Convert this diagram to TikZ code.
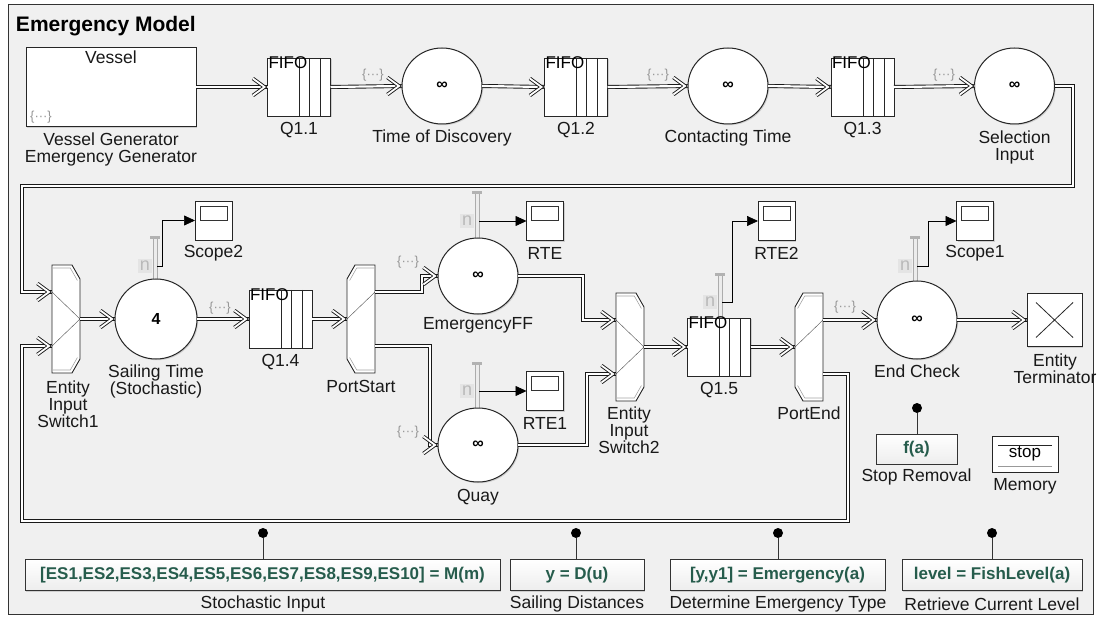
\documentclass[tikz,border=0pt]{standalone}
\usepackage{fontspec}
\setmainfont{Liberation Sans}
\usetikzlibrary{shapes.geometric,arrows.meta,calc,shadows}
\definecolor{bgc}{RGB}{240,240,240}
\definecolor{fgreen}{RGB}{38,92,76}
\definecolor{dotsgray}{RGB}{150,150,150}
\definecolor{nbg}{RGB}{228,228,228}

\tikzset{
  every node/.style={inner sep=0pt, outer sep=0pt},
  lbl/.style={font=\fontsize{17.5}{17}\selectfont, align=center, text=black!90},
  blk/.style={draw=black!85, line width=0.9pt, fill=white,
    drop shadow={shadow xshift=1.2pt, shadow yshift=-1.2pt, opacity=0.3}},
  server/.style={blk, ellipse, line width=1pt, minimum width=80pt, minimum height=76pt,
    font=\bfseries\fontsize{16}{16}\selectfont},
  fifobox/.style={blk, rectangle, minimum width=63pt, minimum height=58pt},
  scopebox/.style={blk, rectangle, minimum width=37pt, minimum height=39pt},
  swbox/.style={rectangle, minimum width=28pt, minimum height=108pt, draw=none},
  swshape/.style={draw=black!85, line width=0.9pt, fill=white, line join=miter},
  swbevel/.style={draw=gray!70, line width=0.6pt},
  swwire/.style={draw=black!70, line width=0.4pt},
  ent/.style={draw=black!90, line width=0.9pt, double=white, double distance=2.2pt,
    line join=miter},
  chev/.pic={\draw[draw=black!90, line width=0.9pt, double=white, double distance=1.8pt,
        line join=miter] (-14.6pt,8.5pt) -- (-3pt,0pt) -- (-14.6pt,-8.5pt);},
  sig/.style={draw=black, line width=0.7pt, -{Triangle[length=11pt,width=10pt]}},
  attr/.style={font=\fontsize{13}{13}\selectfont, text=dotsgray},
  nlbl/.style={font=\fontsize{18}{18}\selectfont, text=gray!55, fill=nbg, inner sep=2pt},
  fnbox/.style={draw=black!80, line width=0.9pt, top color=white, bottom color=gray!14,
    minimum height=31pt, inner xsep=4pt, font=\bfseries\fontsize{17}{17}\selectfont,
    text=fgreen, drop shadow={shadow xshift=1.2pt, shadow yshift=-1.2pt, opacity=0.3}},
  dotn/.style={circle, fill=black, minimum size=10pt},
  wire/.style={draw=black!80, line width=0.8pt},
}

\newcommand\nport[5]{%
  \draw[draw=gray!65, fill=gray!15, line width=0.5pt] (#2-2,#3) rectangle (#2+2,#4);
  \fill[gray!60] (#2-5,#3-1.5) rectangle (#2+5,#3+1.5);
  \node[nlbl] (#1) at (#2-10,#5) {n};
  \coordinate (#1-s) at (#2+2,#5);
}
\newcommand\fifo[4]{%
  \node[fifobox] (#1) at (#2,#3) {};
  \foreach \d in {31,21,10}{\draw[black!85, line width=0.7pt] ($(#1.north east)+(-\d,0)$) -- ($(#1.south east)+(-\d,0)$);}
  \node[font=\fontsize{17}{17}\selectfont, anchor=north west] (#1-t) at ($(#1.north west)+(1,-1)$) {FIFO};
  \node[lbl] (#1-l) at ($(#1.south)+(0,14)$) {#4};
}
\newcommand\scopeblk[4]{%
  \node[scopebox] (#1) at (#2,#3) {};
  \draw[black!80, line width=0.7pt, fill=white] ($(#1.north west)+(5,5)$) rectangle ($(#1.north east)+(-5,19)$);
  \node[lbl] (#1-l) at ($(#1.south)+(0,13)$) {#4};
}
\newcommand\inSw[3]{%
  \node[swbox] (#1) at (#2+14,#3+54) {};
  \draw[swshape] (#2,#3) -- (#2+20,#3) -- (#2+28,#3+14) -- (#2+28,#3+94) -- (#2+20,#3+108) -- (#2,#3+108) -- cycle;
  \draw[swbevel] (#2+1,#3+3) -- (#2+18.3,#3+3) -- (#2+25.4,#3+15.5);
  \draw[swbevel] (#2+1,#3+105) -- (#2+18.3,#3+105) -- (#2+25.4,#3+92.5);
  \coordinate (#1-in1) at (#2,#3+27);
  \coordinate (#1-in2) at (#2,#3+81);
  \coordinate (#1-out) at (#2+28,#3+54);
  \draw[swwire] (#1-in1) -- (#1-out) -- (#1-in2);
}
\newcommand\outSw[3]{%
  \node[swbox] (#1) at (#2+14,#3+54) {};
  \draw[swshape] (#2+28,#3) -- (#2+8,#3) -- (#2,#3+14) -- (#2,#3+94) -- (#2+8,#3+108) -- (#2+28,#3+108) -- cycle;
  \draw[swbevel] (#2+27,#3+3) -- (#2+9.7,#3+3) -- (#2+2.6,#3+15.5);
  \draw[swbevel] (#2+27,#3+105) -- (#2+9.7,#3+105) -- (#2+2.6,#3+92.5);
  \coordinate (#1-in) at (#2,#3+54);
  \coordinate (#1-out1) at (#2+28,#3+27);
  \coordinate (#1-out2) at (#2+28,#3+81);
  \draw[swwire] (#1-in) -- (#1-out1);
}

\begin{document}
\begin{tikzpicture}[x=1pt,y=-1pt]
\useasboundingbox (0,0) rectangle (1099,617);
\draw[black!80, line width=0.8pt, fill=bgc] (8,4) rectangle (1093,614);
\node[font=\bfseries\fontsize{21}{21}\selectfont, anchor=base west] (title) at (16,32) {Emergency Model};

% n ports
\nport{sailn}{155}{238}{282}{266}
\nport{effn}{477}{193}{240}{221}
\nport{quayn}{477}{363}{410}{391}
\nport{q15n}{720}{275}{320}{302}
\nport{ecn}{915}{238}{282}{266}

% top row
\node[blk, rectangle, minimum width=170pt, minimum height=79pt] (vessel) at (111,87) {};
\node[lbl] (vesselT) at ($(vessel.north)+(0,10)$) {Vessel};
\node[attr] (vesselA) at (41,117) {\{···\}};
\node[lbl] (vesselL) at (111,149) {Vessel Generator\\Emergency Generator};

\fifo{q11}{299}{87}{Q1.1}
\node[server] (tod) at (442,86) {∞};
\node[lbl] (todL) at (442,138) {Time of Discovery};
\fifo{q12}{576}{87}{Q1.2}
\node[server] (ct) at (728,86) {∞};
\node[lbl] (ctL) at (728,138) {Contacting Time};
\fifo{q13}{862.5}{87}{Q1.3}
\node[server] (sel) at (1014.5,86) {∞};
\node[lbl] (selL) at (1014.5,147) {Selection\\Input};

\node[attr] (a1) at (373,75) {\{···\}};
\node[attr] (a2) at (658,75) {\{···\}};
\node[attr] (a3) at (944,75) {\{···\}};

% middle row
\inSw{sw1}{52}{265}
\node[lbl] (sw1L) at (68,404) {Entity\\Input\\Switch1};
\node[server, minimum width=82pt, minimum height=80pt] (sail) at (156,319) {4};
\node[lbl] (sailL) at (156,381) {Sailing Time\\(Stochastic)};
\scopeblk{scope2}{213.5}{220.5}{Scope2}
\fifo{q14}{280.5}{319}{Q1.4}
\node[attr] (a4) at (220,308) {\{···\}};
\outSw{ps}{347}{265}
\node[lbl] (psL) at (361,386) {PortStart};

\node[server] (eff) at (478,276) {∞};
\node[lbl] (effL) at (478,325) {EmergencyFF};
\scopeblk{rte}{545}{221}{RTE}
\node[attr] (a5) at (408,262) {\{···\}};
\node[server, minimum height=74pt] (quay) at (478,445) {∞};
\node[lbl] (quayL) at (478,497) {Quay};
\scopeblk{rte1}{545}{391}{RTE1}
\node[attr] (a6) at (408,432) {\{···\}};

\inSw{sw2}{616}{293}
\node[lbl] (sw2L) at (629,430) {Entity\\Input\\Switch2};
\fifo{q15}{719}{347}{Q1.5}
\scopeblk{rte2}{776.5}{221}{RTE2}
\outSw{pe}{795}{293}
\node[lbl] (peL) at (809,413) {PortEnd};
\node[attr] (a7) at (845,307) {\{···\}};
\node[server, minimum height=78pt] (ec) at (917,320) {∞};
\node[lbl] (ecL) at (917,371) {End Check};
\scopeblk{scope1}{975}{221}{Scope1}
\node[blk, rectangle, minimum width=55pt, minimum height=53pt] (term) at (1054.5,320) {};
\draw[black!85, line width=0.8pt] ($(term.north west)+(9,9)$) -- ($(term.south east)+(-9,-9)$);
\draw[black!85, line width=0.8pt] ($(term.north east)+(-9,9)$) -- ($(term.south west)+(9,-9)$);
\node[lbl] (termL) at (1055,369) {Entity\\Terminator};

% stop removal and memory
\node[fnbox, minimum width=81pt, minimum height=30pt] (stoprem) at (916.5,449) {f(a)};
\node[dotn] (stopd) at (917,408) {};
\draw[wire] (stopd) -- (stopd |- stoprem.north);
\node[lbl] (stopL) at (916.5,477) {Stop Removal};
\node[blk, rectangle, minimum width=66pt, minimum height=36pt] (mem) at (1025,454) {};
\node[font=\fontsize{17}{17}\selectfont] (memT) at (mem) {stop};
\draw[black!85, line width=0.8pt] ($(mem.north west)+(6,9)$) -- ($(mem.north east)+(-6,9)$);
\draw[gray!80, line width=0.8pt] ($(mem.south west)+(6,-6)$) -- ($(mem.south east)+(-6,-6)$);
\node[lbl] (memL) at (1025,486) {Memory};

% bottom function blocks
\node[fnbox, minimum width=475pt] (fn1) at (262.5,575) {[ES1,ES2,ES3,ES4,ES5,ES6,ES7,ES8,ES9,ES10] = M(m)};
\node[fnbox, minimum width=134pt] (fn2) at (577,575) {y = D(u)};
\node[fnbox, minimum width=215pt] (fn3) at (777.5,575) {[y,y1] = Emergency(a)};
\node[fnbox, minimum width=180pt] (fn4) at (992,575) {level = FishLevel(a)};
\node[dotn] (fn1d) at (263,533) {};
\node[dotn] (fn2d) at (576,533) {};
\node[dotn] (fn3d) at (778,533) {};
\node[dotn] (fn4d) at (992,533) {};
\draw[wire] (fn1d) -- (fn1d |- fn1.north);
\draw[wire] (fn2d) -- (fn2d |- fn2.north);
\draw[wire] (fn3d) -- (fn3d |- fn3.north);
\draw[wire] (fn4d) -- (fn4d |- fn4.north);
\node[lbl] (fn1L) at (263,604) {Stochastic Input};
\node[lbl] (fn2L) at (577,604) {Sailing Distances};
\node[lbl] (fn3L) at (778,604) {Determine Emergency Type};
\node[lbl] (fn4L) at (992,604) {Retrieve Current Level};

% loop coordinates
\coordinate (loopA) at (1073,186);
\coordinate (loopB) at (22,186);
\coordinate (loopC) at (848,521);
\coordinate (loopD) at (22,521);

% entity connectors (each ends with an open double chevron)
\draw[ent] (vessel.east) -- (q11.west);   \pic at (q11.west) {chev};
\draw[ent] (q11.east) -- (tod.west);      \pic at (tod.west) {chev};
\draw[ent] (tod.east) -- (q12.west);      \pic at (q12.west) {chev};
\draw[ent] (q12.east) -- (ct.west);       \pic at (ct.west) {chev};
\draw[ent] (ct.east) -- (q13.west);       \pic at (q13.west) {chev};
\draw[ent] (q13.east) -- (sel.west);      \pic at (sel.west) {chev};
\draw[ent] (sel.east) -| (loopA) -- (loopB) |- (sw1-in1); \pic at (sw1-in1) {chev};
\draw[ent] (sw1-out) -- (sail.west);      \pic at (sail.west) {chev};
\draw[ent] (sail.east) -- (q14.west);     \pic at (q14.west) {chev};
\draw[ent] (q14.east) -- (ps-in);         \pic at (ps-in) {chev};
\draw[ent] (ps-out1) -- ++(47,0) |- (eff.west);  \pic at (eff.west) {chev};
\draw[ent] (ps-out2) -- ++(55,0) |- (quay.west); \pic at (quay.west) {chev};
\draw[ent] (eff.east) -- ++(65,0) |- (sw2-in1);  \pic at (sw2-in1) {chev};
\draw[ent] (quay.east) -- ++(69,0) |- (sw2-in2); \pic at (sw2-in2) {chev};
\draw[ent] (sw2-out) -- (q15.west);       \pic at (q15.west) {chev};
\draw[ent] (q15.east) -- (pe-in);         \pic at (pe-in) {chev};
\draw[ent] (pe-out1) -- (ec.west);        \pic at (ec.west) {chev};
\draw[ent] (ec.east) -- (term.west);      \pic at (term.west) {chev};
\draw[ent] (pe-out2) -| (loopC) -- (loopD) |- (sw1-in2); \pic at (sw1-in2) {chev};

% signal connectors
\draw[sig] (sailn-s) -- ++(5,0) |- (scope2.west);
\draw[sig] (effn-s) -- (rte.west);
\draw[sig] (quayn-s) -- (rte1.west);
\draw[sig] (q15n-s) -- ++(10,0) |- (rte2.west);
\draw[sig] (ecn-s) -- ++(11,0) |- (scope1.west);
\end{tikzpicture}
\end{document}
